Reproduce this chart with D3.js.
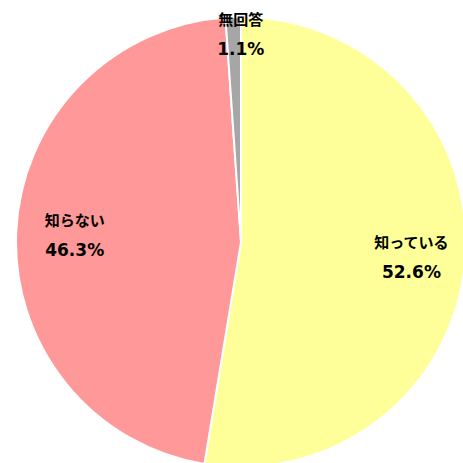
<!DOCTYPE html>
<html>
<head>
<meta charset="utf-8">
<script src="https://cdn.jsdelivr.net/npm/d3@7"></script>
<style>
  body { margin: 0; background: #fff; }
  .label { font-family: "DejaVu Sans", "Noto Sans CJK JP", sans-serif; font-weight: bold; fill: #000; }
  .name { font-size: 15px; }
  .pct { font-size: 17px; }
</style>
</head>
<body>
<svg id="chart" width="463" height="463"></svg>
<script>
// answers, in drawing order (clockwise from 12 o'clock)
const categories = ["知っている", "知らない", "無回答"];
const values = [52.6, 46.3, 1.1];
const percentLabels = ["52.6%", "46.3%", "1.1%"];
const colors = ["#FFFF99", "#FF9999", "#A6A6A6"];

const svg = d3.select("#chart");
const cx = 241, cy = 242, radius = 225;

const pie = d3.pie().sort(null).value(d => d.value);
const arcs = pie(categories.map((c, i) => ({ name: c, value: values[i], pct: percentLabels[i] })));
const arc = d3.arc().innerRadius(0).outerRadius(radius);

const g = svg.append("g").attr("transform", `translate(${cx},${cy})`);

g.selectAll("path")
  .data(arcs)
  .join("path")
  .attr("d", arc)
  .attr("fill", (d, i) => colors[i])
  .attr("stroke", "#fff")
  .attr("stroke-width", 2);

// label positions: radial fraction for each slice, plus a small nudge
const labelRadius = [0.76, 0.74, 0.93];
const labelNudge = [0, 0, 7];
const labels = g.selectAll("g.lbl")
  .data(arcs)
  .join("g")
  .attr("class", "lbl")
  .attr("transform", (d, i) => {
    const a = (d.startAngle + d.endAngle) / 2;
    const r = radius * labelRadius[i];
    return `translate(${Math.sin(a) * r + labelNudge[i]},${-Math.cos(a) * r})`;
  });

labels.append("text")
  .attr("class", "label name")
  .attr("text-anchor", "middle")
  .attr("y", -8)
  .text(d => d.data.name);

labels.append("text")
  .attr("class", "label pct")
  .attr("text-anchor", "middle")
  .attr("y", 22)
  .text(d => d.data.pct);
</script>
</body>
</html>
